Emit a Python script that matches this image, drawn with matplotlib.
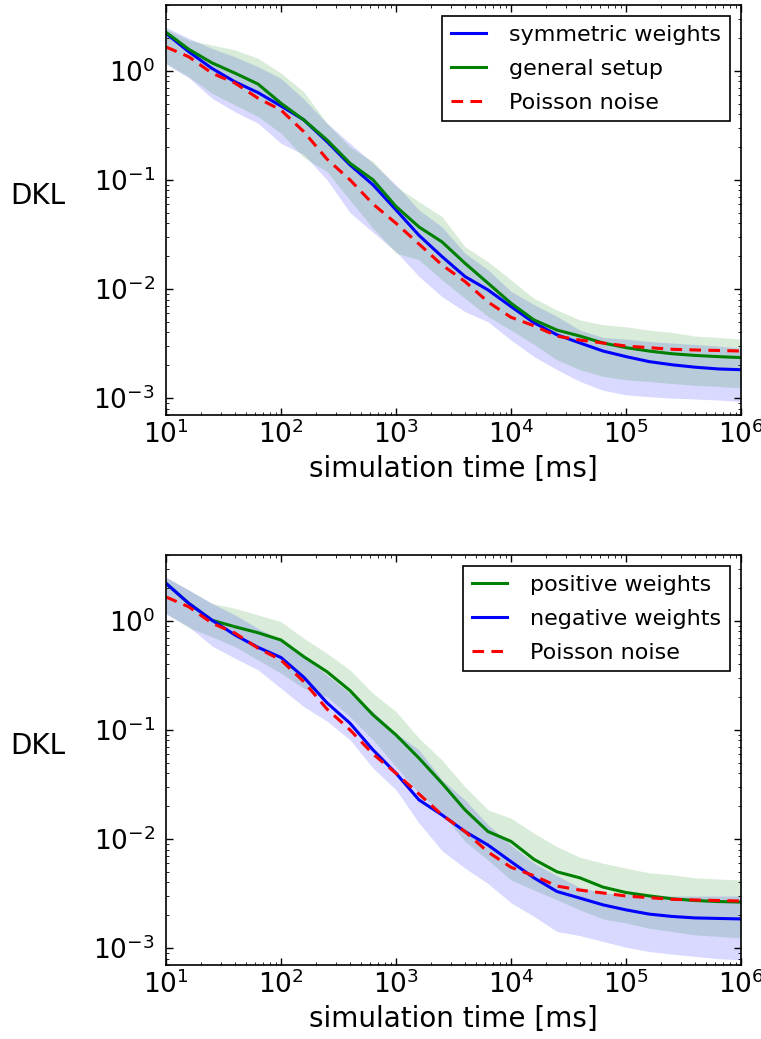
import matplotlib
matplotlib.use("Agg")
import matplotlib.pyplot as plt
import numpy as np

# simulation time sample points [ms]
time_ms = [10, 15.8, 25.1, 39.8, 63.1, 100, 158, 251, 398, 631,
           1000, 1585, 2512, 3981, 6310, 10000, 15850, 25120, 39810, 63100,
           100000, 158500, 251200, 398100, 631000, 1000000]

# Poisson noise reference (same in both panels)
poisson = [1.65, 1.34, 0.95, 0.77, 0.56, 0.436, 0.276, 0.155, 0.10, 0.060,
           0.040, 0.0258, 0.0166, 0.0117, 0.0076, 0.0055, 0.0046, 0.0037, 0.0034, 0.0032,
           0.0030, 0.0029, 0.0028, 0.00276, 0.00273, 0.0027]

# top panel
sym_mean = [2.2, 1.49, 1.05, 0.79, 0.63, 0.475, 0.354, 0.224, 0.137, 0.090,
            0.053, 0.031, 0.0198, 0.013, 0.0098, 0.0069, 0.0049, 0.0038, 0.0032, 0.0027,
            0.0024, 0.00216, 0.00202, 0.00192, 0.00185, 0.00182]
sym_low = [1.15, 0.86, 0.56, 0.42, 0.33, 0.216, 0.17, 0.10, 0.05, 0.0330,
           0.0220, 0.0130, 0.0085, 0.0062, 0.005, 0.0034, 0.0024, 0.00182, 0.00142, 0.00118,
           0.00107, 0.00103, 0.0010, 0.00098, 0.00096, 0.00093]
sym_high = [2.5, 1.98, 1.6, 1.34, 1.09, 0.85, 0.55, 0.33, 0.216, 0.142,
            0.09, 0.053, 0.037, 0.0213, 0.015, 0.0095, 0.0072, 0.0056, 0.0042, 0.0036,
            0.00347, 0.0033, 0.0032, 0.0031, 0.0030, 0.00287]

gen_mean = [2.25, 1.57, 1.18, 0.95, 0.755, 0.503, 0.354, 0.232, 0.142, 0.100,
            0.057, 0.037, 0.027, 0.0172, 0.0113, 0.0074, 0.0052, 0.0042, 0.0037, 0.0032,
            0.0029, 0.0027, 0.00255, 0.00246, 0.0024, 0.00235]
gen_low = [1.17, 0.88, 0.62, 0.485, 0.38, 0.267, 0.16, 0.119, 0.065, 0.036,
           0.0213, 0.0185, 0.0121, 0.0082, 0.0056, 0.0042, 0.0031, 0.00224, 0.00182, 0.00158,
           0.00147, 0.00142, 0.00136, 0.00131, 0.00128, 0.00124]
gen_high = [2.4, 1.91, 1.72, 1.55, 1.3, 0.95, 0.64, 0.33, 0.2, 0.147,
            0.087, 0.063, 0.046, 0.0244, 0.0178, 0.0121, 0.0082, 0.0064, 0.0052, 0.0047,
            0.0045, 0.0042, 0.0040, 0.0037, 0.0036, 0.00347]

# bottom panel
pos_mean = [2.2, 1.44, 1.01, 0.88, 0.776, 0.665, 0.468, 0.341, 0.229, 0.137,
            0.0898, 0.055, 0.0324, 0.0185, 0.0117, 0.0095, 0.0065, 0.005, 0.0044, 0.00362,
            0.00323, 0.00301, 0.00283, 0.00273, 0.00267, 0.00264]
pos_low = [1.17, 0.86, 0.713, 0.578, 0.436, 0.33, 0.24, 0.201, 0.132, 0.081,
           0.046, 0.0262, 0.0172, 0.0095, 0.0064, 0.0042, 0.0034, 0.00277, 0.00224, 0.00185,
           0.0017, 0.00152, 0.00142, 0.00132, 0.00128, 0.00124]
pos_high = [2.5, 1.91, 1.44, 1.3, 1.13, 0.98, 0.69, 0.503, 0.354, 0.216,
            0.147, 0.0838, 0.053, 0.03, 0.0185, 0.0155, 0.0113, 0.0085, 0.0068, 0.006,
            0.0054, 0.0049, 0.0047, 0.0044, 0.0043, 0.0042]

neg_mean = [2.2, 1.44, 1.01, 0.74, 0.57, 0.46, 0.303, 0.177, 0.115, 0.0655,
            0.04, 0.0228, 0.0166, 0.0117, 0.0088, 0.0062, 0.0044, 0.0033, 0.00287, 0.00249,
            0.00224, 0.00205, 0.00195, 0.00189, 0.00187, 0.00185]
neg_low = [1.15, 0.88, 0.586, 0.453, 0.354, 0.24, 0.163, 0.12, 0.081, 0.0445,
           0.0282, 0.014, 0.0078, 0.0054, 0.0039, 0.0026, 0.00195, 0.00142, 0.0013, 0.00115,
           0.00102, 0.00093, 0.00088, 0.00084, 0.0008, 0.00078]
neg_high = [2.5, 1.91, 1.44, 1.13, 0.85, 0.665, 0.468, 0.318, 0.216, 0.147,
            0.093, 0.0655, 0.0348, 0.0228, 0.0135, 0.0088, 0.006, 0.0046, 0.0036, 0.0032,
            0.0031, 0.0031, 0.0030, 0.0030, 0.0030, 0.0030]

plt.rcParams.update({
    "font.family": "DejaVu Sans",
    "mathtext.fontset": "dejavusans",
    "mathtext.default": "regular",
    "xtick.direction": "in",
    "ytick.direction": "in",
    "xtick.top": True,
    "ytick.right": True,
    "xtick.major.size": 5,
    "ytick.major.size": 5,
    "xtick.minor.size": 2.5,
    "ytick.minor.size": 2.5,
    "xtick.major.width": 1.0,
    "ytick.major.width": 1.0,
    "xtick.minor.visible": True,
    "axes.linewidth": 1.2,
})

BLUE, GREEN, RED = (0, 0, 1), (0, 0.5, 0), (1, 0, 0)


def draw_panel(ax, curves):
    # curves: list of (mean, low, high, color, label); bands first, lines on top
    for mean, low, high, color, label in curves:
        ax.fill_between(time_ms, low, high, color=color, alpha=0.15, linewidth=0)
    for mean, low, high, color, label in curves:
        ax.plot(time_ms, mean, color=color, lw=2.2, label=label)
    ax.plot(time_ms, poisson, color=RED, lw=2.2, dashes=(3.8, 2.4), label="Poisson noise")
    ax.set_xscale("log")
    ax.set_yscale("log")
    ax.set_xlim(10, 1e6)
    ax.set_ylim(7e-4, 4)
    ax.tick_params(labelsize=19)
    ax.tick_params(axis="x", which="major", pad=4)
    ax.tick_params(axis="y", which="major", pad=8)
    ax.set_xlabel("simulation time [ms]", fontsize=20, labelpad=4)
    ax.set_ylabel("DKL", fontsize=20, rotation=0, ha="left", va="bottom")
    ax.yaxis.set_label_coords(-0.271, 0.5)
    leg = ax.legend(loc="upper right", fontsize=16, fancybox=False, framealpha=1,
                    edgecolor="black", handlelength=1.55, handletextpad=1.05,
                    borderpad=0.4, labelspacing=0.62, borderaxespad=0.5)
    leg.get_frame().set_linewidth(1.2)


fig = plt.figure(figsize=(7.61, 10.39), dpi=100)
ax_top = fig.add_axes([166 / 761, 1 - 415 / 1039, 575 / 761, 410 / 1039])
ax_bot = fig.add_axes([166 / 761, 1 - 965 / 1039, 575 / 761, 410 / 1039])

draw_panel(ax_top, [
    (sym_mean, sym_low, sym_high, BLUE, "symmetric weights"),
    (gen_mean, gen_low, gen_high, GREEN, "general setup"),
])
draw_panel(ax_bot, [
    (pos_mean, pos_low, pos_high, GREEN, "positive weights"),
    (neg_mean, neg_low, neg_high, BLUE, "negative weights"),
])

fig.savefig("out.png", dpi=100, facecolor="white")
